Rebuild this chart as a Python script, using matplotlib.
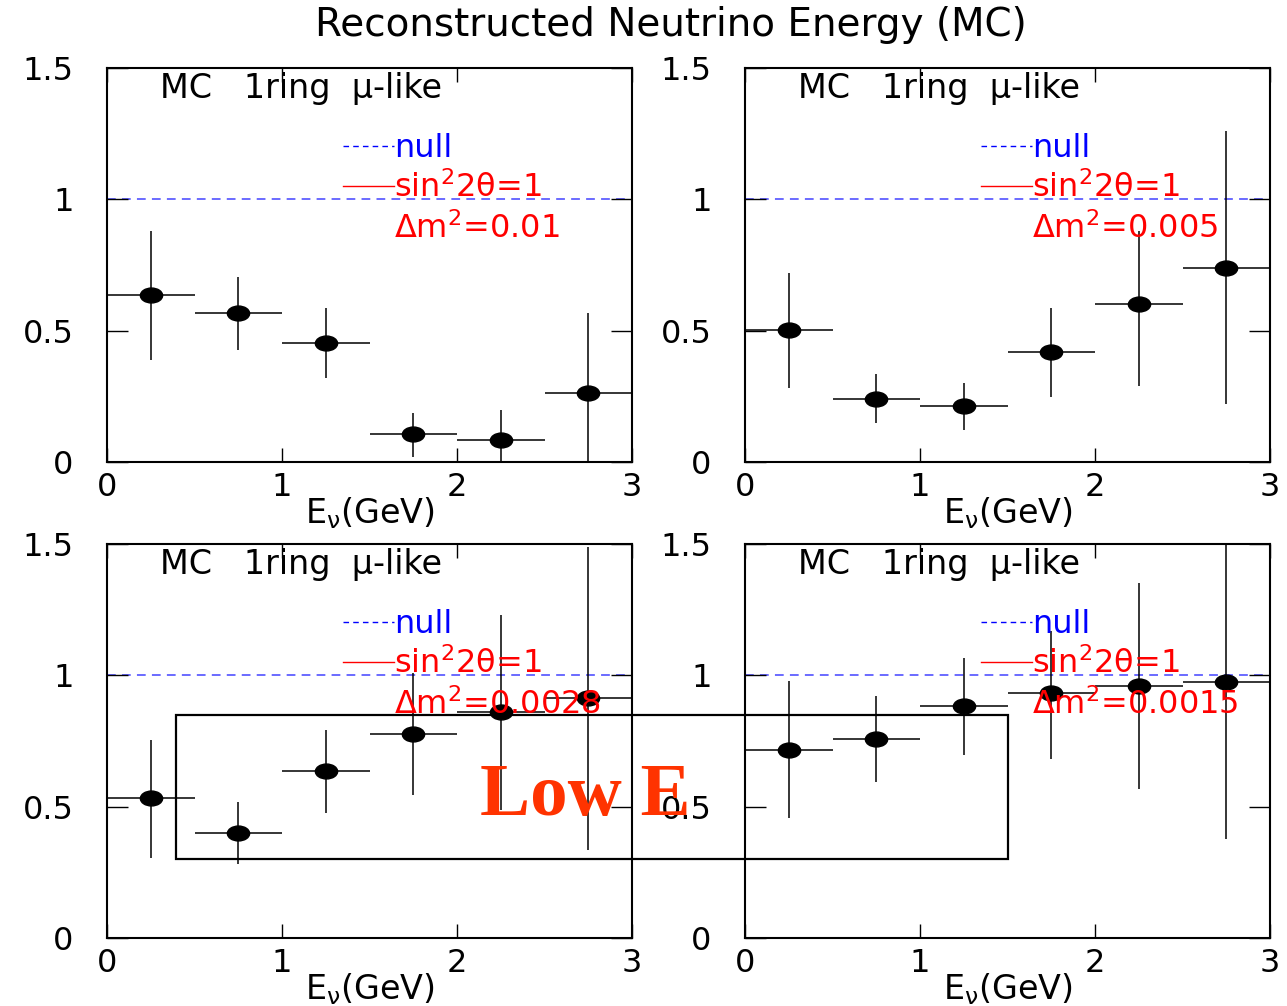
import matplotlib
matplotlib.use("Agg")
import matplotlib.pyplot as plt
import numpy as np
from matplotlib.lines import Line2D
from matplotlib.markers import MarkerStyle
from matplotlib.path import Path
from matplotlib.patches import Rectangle

# bin centres (GeV) and half bin width
centers = [0.25, 0.75, 1.25, 1.75, 2.25, 2.75]
half_bin = 0.25

dm2_labels = ["0.01", "0.005", "0.0028", "0.0015"]

# ratio values with lower / upper error-bar ends, one set per panel
tl_val = [0.636, 0.566, 0.452, 0.105, 0.084, 0.261]
tl_lo = [0.39, 0.426, 0.321, 0.02, 0.0, 0.0]
tl_hi = [0.88, 0.705, 0.585, 0.188, 0.198, 0.569]

tr_val = [0.502, 0.24, 0.213, 0.417, 0.601, 0.737]
tr_lo = [0.28, 0.15, 0.122, 0.249, 0.289, 0.22]
tr_hi = [0.718, 0.334, 0.302, 0.585, 0.88, 1.26]

bl_val = [0.532, 0.398, 0.636, 0.775, 0.862, 0.912]
bl_lo = [0.306, 0.28, 0.477, 0.544, 0.487, 0.335]
bl_hi = [0.754, 0.519, 0.792, 1.007, 1.23, 1.49]

br_val = [0.716, 0.759, 0.883, 0.934, 0.959, 0.976]
br_lo = [0.456, 0.595, 0.695, 0.68, 0.566, 0.376]
br_hi = [0.978, 0.922, 1.066, 1.17, 1.352, 1.5]

x_ticks = [0, 1, 2, 3]
y_ticks = [0, 0.5, 1, 1.5]
y_ticklabels = ["0", "0.5", "1", "1.5"]

plt.rcParams["font.family"] = ["DejaVu Sans"]
plt.rcParams["mathtext.fontset"] = "custom"
plt.rcParams["mathtext.rm"] = "DejaVu Sans"
plt.rcParams["mathtext.it"] = "DejaVu Sans"

# flattened ellipse marker (the original picture is stretched sideways)
circ = Path.unit_circle()
ellipse = MarkerStyle(Path(circ.vertices * np.array([1.0, 0.67]), circ.codes))

fig = plt.figure(figsize=(12.87, 10.06), dpi=100)

W, H = 1287, 1006
ax_w, ax_h = 525 / W, 394 / H
lefts = [107 / W, 745 / W]
bottoms = [(H - 462) / H, (H - 938) / H]

panels = [
    (lefts[0], bottoms[0], tl_val, tl_lo, tl_hi, dm2_labels[0]),
    (lefts[1], bottoms[0], tr_val, tr_lo, tr_hi, dm2_labels[1]),
    (lefts[0], bottoms[1], bl_val, bl_lo, bl_hi, dm2_labels[2]),
    (lefts[1], bottoms[1], br_val, br_lo, br_hi, dm2_labels[3]),
]

for left, bottom, val, lo, hi, dm2 in panels:
    ax = fig.add_axes([left, bottom, ax_w, ax_h])
    val = np.array(val)
    yerr = [val - np.array(lo), np.array(hi) - val]
    ax.errorbar(centers, val, xerr=half_bin, yerr=yerr, fmt="none",
                ecolor="black", elinewidth=1.1, capsize=0)
    ax.plot(centers, val, ls="none", marker=ellipse, markersize=16,
            color="black", zorder=3)
    ax.axhline(1.0, color="#6a6aff", lw=1.4, ls=(0, (4.5, 3.2)), zorder=1)

    ax.set_xlim(0, 3)
    ax.set_ylim(0, 1.5)
    ax.set_xticks(x_ticks)
    ax.set_yticks(y_ticks, labels=y_ticklabels)
    ax.tick_params(direction="in", top=True, right=True, labelsize=23, width=1.0)
    ax.tick_params(axis="x", length=10, pad=7)
    ax.tick_params(axis="y", length=15, pad=24)
    for s in ax.spines.values():
        s.set_linewidth(1.5)

    ax.text(0.101, 0.949, "MC   1ring  \u03bc-like", transform=ax.transAxes,
            fontsize=24, va="center", ha="left")
    ax.text(0.5, -0.155, r"E$_{\mathregular{\nu}}$(GeV)", transform=ax.transAxes,
            fontsize=24, ha="center", va="baseline")

    handles = [
        Line2D([], [], color="blue", lw=1.0, ls=(0, (4, 3))),
        Line2D([], [], color="red", lw=1.0),
        Line2D([], [], color="none"),
    ]
    labels = ["null", "sin$^2$2\u03b8=1", "\u0394m$^2$=" + dm2]
    ax.legend(handles, labels, loc="upper left", bbox_to_anchor=(0.449, 0.835),
              frameon=False, fontsize=23, handlelength=1.62, handletextpad=0.0,
              borderpad=0, borderaxespad=0, labelspacing=0.24,
              labelcolor=["blue", "red", "red"])

fig.text(0.521, 0.975, "Reconstructed Neutrino Energy (MC)", fontsize=28,
         ha="center", va="center")

# "Low E" highlight box spanning the lower panels
fig.add_artist(Rectangle((176 / W, (H - 859) / H), (1008 - 176) / W, (859 - 715) / H,
                         transform=fig.transFigure, fill=False, lw=1.6,
                         edgecolor="black", zorder=10))
fig.text(480 / W, (H - 815) / H, "Low E", fontsize=54, color="#ff3300",
         family="Liberation Serif", weight="bold", ha="left", va="baseline",
         zorder=11)

fig.savefig("out.png", dpi=100)
